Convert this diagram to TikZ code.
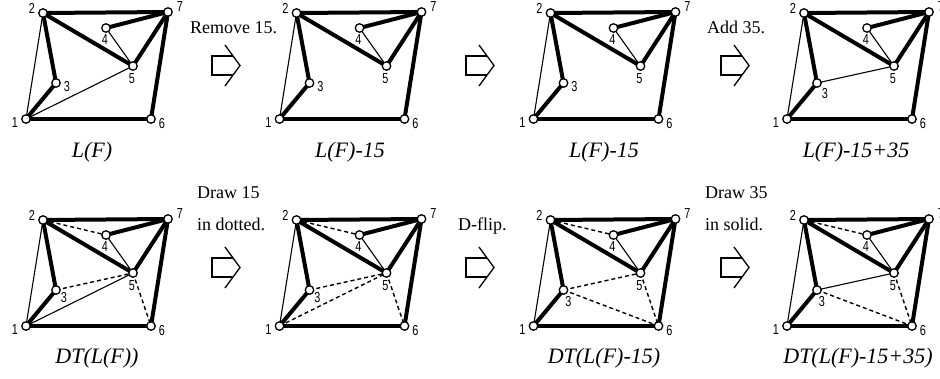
\documentclass[tikz,border=0pt]{standalone}
\usepackage{fontspec}
\setmainfont{Liberation Serif}
\newfontfamily\numfont[FakeStretch=0.75]{Liberation Sans}
\usetikzlibrary{backgrounds}
\tikzset{
  vtx/.style={circle,draw,fill=white,line width=1.3pt,inner sep=0pt,minimum size=8.5pt},
  thk/.style={line width=4pt},
  thn/.style={line width=1.1pt},
  dsh/.style={line width=1.4pt,dash pattern=on 4pt off 3pt},
  lbl/.style={font=\numfont\fontsize{14.5}{14.5}\selectfont,inner sep=0pt},
  captxt/.style={font=\fontsize{22}{24}\selectfont\itshape,inner sep=0pt,anchor=base},
  txt/.style={font=\fontsize{18}{20}\selectfont,anchor=base west,inner sep=0pt},
  arr/.style={line width=1.3pt}
}
% #1 prefix, #2 dx, #3 dy, #4 x of label 3, #5 y of label 3
\newcommand\mkpanel[5]{%
  \begin{scope}[shift={(#2,#3)}]
    \node[vtx] (#1-1) at (26,119) {};
    \node[vtx] (#1-2) at (43,13) {};
    \node[vtx] (#1-3) at (56,83) {};
    \node[vtx] (#1-4) at (106,28) {};
    \node[vtx] (#1-5) at (133,66) {};
    \node[vtx] (#1-6) at (151,119) {};
    \node[vtx] (#1-7) at (168,12) {};
    \node[lbl] (#1-l1) at (15,123) {1};
    \node[lbl] (#1-l2) at (32,8) {2};
    \node[lbl] (#1-l3) at (#4,#5) {3};
    \node[lbl] (#1-l4) at (105,40) {4};
    \node[lbl] (#1-l5) at (132,79) {5};
    \node[lbl] (#1-l6) at (162,124) {6};
    \node[lbl] (#1-l7) at (180,7) {7};
    \begin{scope}[on background layer]
      \foreach \a/\b in {2/3,1/3,1/6,2/7,2/5,4/7,5/7,6/7}
        \draw[thk] (#1-\a.center) -- (#1-\b.center);
      \foreach \a/\b in {1/2,4/5}
        \draw[thn] (#1-\a.center) -- (#1-\b.center);
    \end{scope}
  \end{scope}}
\newcommand\thinedge[3]{\begin{scope}[on background layer]\draw[thn] (#1-#2.center) -- (#1-#3.center);\end{scope}}
\newcommand\dashedge[3]{\begin{scope}[on background layer]\draw[dsh] (#1-#2.center) -- (#1-#3.center);\end{scope}}
\newcommand\openarrow[2]{%
  \begin{scope}[shift={(#1,#2)}]
    \draw[arr,line join=miter] (225,45) -- (240,65.5) -- (225,86);
    \draw[arr] (232.8,56) -- (212,56) -- (212,75) -- (232.5,75);
  \end{scope}}
\begin{document}
\begin{tikzpicture}[x=1pt,y=-1pt]
\useasboundingbox (0,0) rectangle (940,378);
% top row
\mkpanel{ta}{0}{0}{67}{87}
\thinedge{ta}{1}{5}
\mkpanel{tb}{253.5}{0}{67}{87}
\mkpanel{tc}{507.5}{0}{67}{87}
\mkpanel{td}{761}{0}{64}{94}
\thinedge{td}{3}{5}
% bottom row
\mkpanel{ba}{0}{207}{64}{91}
\thinedge{ba}{1}{5}
\dashedge{ba}{2}{4}\dashedge{ba}{3}{5}\dashedge{ba}{5}{6}
\mkpanel{bb}{253.5}{207}{64}{91}
\dashedge{bb}{1}{5}\dashedge{bb}{2}{4}\dashedge{bb}{3}{5}\dashedge{bb}{5}{6}
\mkpanel{bc}{507.5}{207}{61}{95}
\dashedge{bc}{2}{4}\dashedge{bc}{3}{5}\dashedge{bc}{5}{6}\dashedge{bc}{3}{6}
\mkpanel{bd}{761}{207}{61}{95}
\thinedge{bd}{3}{5}
\dashedge{bd}{2}{4}\dashedge{bd}{5}{6}\dashedge{bd}{3}{6}
% arrows
\openarrow{0}{0}
\openarrow{254}{0}
\openarrow{509}{0}
\openarrow{0}{202}
\openarrow{254}{202}
\openarrow{509}{202}
% step texts
\node[txt] (t1) at (190,33) {Remove 15.};
\node[txt] (t2) at (707,33) {Add 35.};
\node[txt] (t3) at (197,198) {Draw 15};
\node[txt] (t4) at (197,230) {in dotted.};
\node[txt] (t5) at (458,230) {D-flip.};
\node[txt] (t6) at (705,198) {Draw 35};
\node[txt] (t7) at (705,230) {in solid.};
% captions
\node[captxt] (c1) at (92,157) {L(F)};
\node[captxt] (c2) at (350,157) {L(F)-15};
\node[captxt] (c3) at (604,157) {L(F)-15};
\node[captxt] (c4) at (856,157) {L(F)-15+35};
\node[captxt] (c5) at (97,363) {DT(L(F))};
\node[captxt] (c6) at (604,363) {DT(L(F)-15)};
\node[captxt] (c7) at (858,363) {DT(L(F)-15+35)};
\end{tikzpicture}
\end{document}
